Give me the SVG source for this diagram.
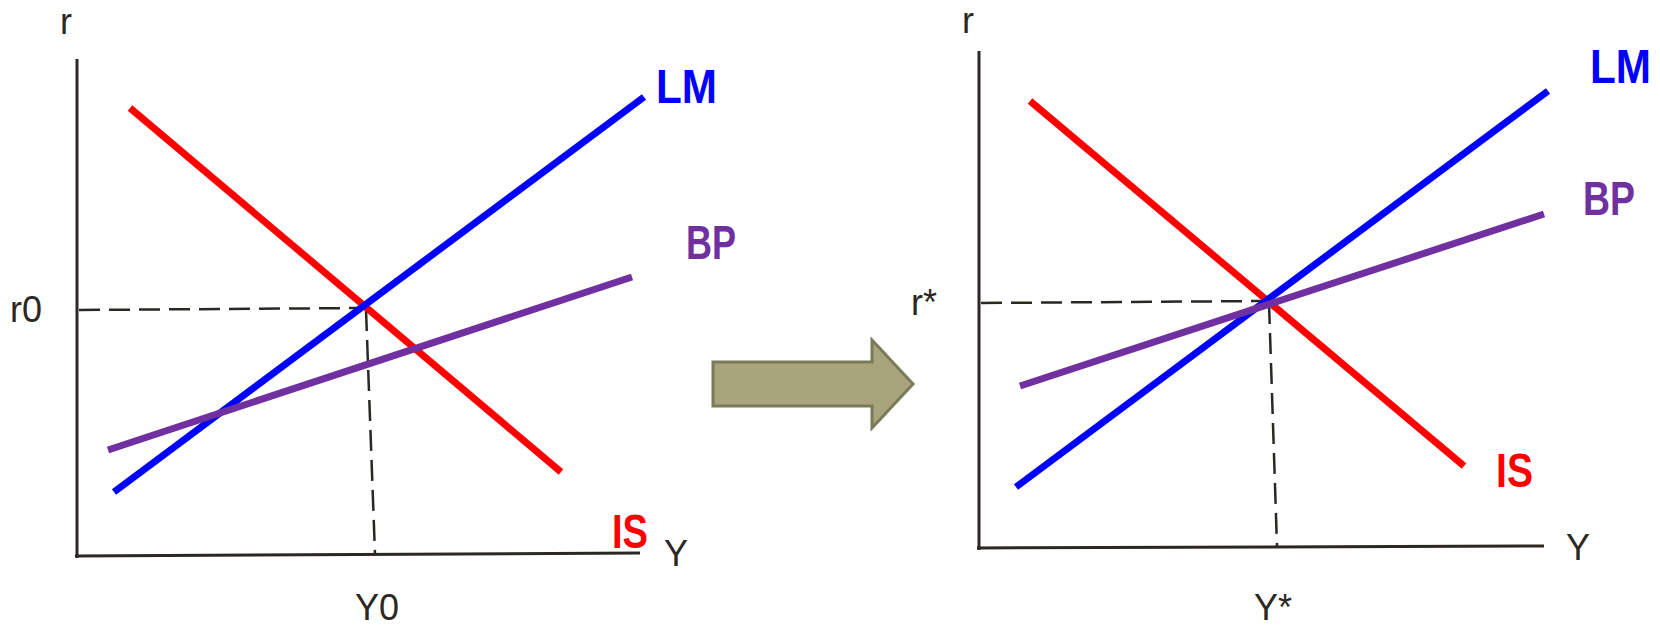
<svg xmlns="http://www.w3.org/2000/svg" width="1660" height="629" viewBox="0 0 1660 629">
<style>
.ax{stroke:#2b2823;stroke-width:3;fill:none}
.dash{stroke:#2b2823;stroke-width:2.5;stroke-dasharray:21 9;fill:none}
.cur{stroke-width:7;fill:none}
.is{stroke:#ff0000}
.lm{stroke:#0000ff}
.bp{stroke:#7030a0}
.t{font-family:"Liberation Sans",Arial,sans-serif;font-size:36px;fill:#2b2823}
.b{font-family:"Liberation Sans",Arial,sans-serif;font-weight:bold;font-size:48px}
</style>
<rect width="1660" height="629" fill="#ffffff"/>
<g id="left-panel">
  <g id="left-axes">
    <line class="ax" x1="77" y1="59" x2="77" y2="558"/>
    <line class="ax" x1="75" y1="556" x2="640" y2="553"/>
    <text class="t" x="60" y="34">r</text>
    <text class="t" x="10" y="322">r0</text>
    <text class="t" x="355" y="620">Y0</text>
    <text class="t" x="664" y="566">Y</text>
  </g>
  <g id="left-guides">
    <line class="dash" x1="79" y1="310" x2="365" y2="308"/>
    <line class="dash" x1="366" y1="310" x2="375" y2="554"/>
  </g>
  <g id="left-IS">
    <line class="cur is" x1="130" y1="108" x2="561" y2="472"/>
    <text class="b" x="612" y="548" fill="#ff0000" textLength="36" lengthAdjust="spacingAndGlyphs">IS</text>
  </g>
  <g id="left-LM">
    <line class="cur lm" x1="114" y1="492" x2="644" y2="97"/>
    <text class="b" x="656" y="103" fill="#0000ff" textLength="61" lengthAdjust="spacingAndGlyphs">LM</text>
  </g>
  <g id="left-BP">
    <line class="cur bp" x1="108" y1="450" x2="632" y2="277"/>
    <text class="b" x="686" y="259" fill="#7030a0" textLength="50" lengthAdjust="spacingAndGlyphs">BP</text>
  </g>
</g>
<g id="arrow">
  <path d="M713,362 L872,362 L872,340 L913,384 L872,428 L872,406 L713,406 Z" fill="#a8a57c" stroke="#7b7a5a" stroke-width="3" stroke-linejoin="miter"/>
</g>
<g id="right-panel">
  <g id="right-axes">
    <line class="ax" x1="979" y1="51" x2="979" y2="550"/>
    <line class="ax" x1="977" y1="548" x2="1544" y2="546"/>
    <text class="t" x="962" y="33">r</text>
    <text class="t" x="911" y="315">r*</text>
    <text class="t" x="1254" y="620">Y*</text>
    <text class="t" x="1566" y="560">Y</text>
  </g>
  <g id="right-guides">
    <line class="dash" x1="981" y1="303" x2="1268" y2="301"/>
    <line class="dash" x1="1269" y1="303" x2="1277" y2="546"/>
  </g>
  <g id="right-IS">
    <line class="cur is" x1="1030" y1="101" x2="1464" y2="466"/>
    <text class="b" x="1496" y="487" fill="#ff0000" textLength="37" lengthAdjust="spacingAndGlyphs">IS</text>
  </g>
  <g id="right-LM">
    <line class="cur lm" x1="1016" y1="487" x2="1548" y2="91"/>
    <text class="b" x="1590" y="83" fill="#0000ff" textLength="61" lengthAdjust="spacingAndGlyphs">LM</text>
  </g>
  <g id="right-BP">
    <line class="cur bp" x1="1020" y1="386" x2="1544" y2="214"/>
    <text class="b" x="1583" y="215" fill="#7030a0" textLength="52" lengthAdjust="spacingAndGlyphs">BP</text>
  </g>
</g>
</svg>
